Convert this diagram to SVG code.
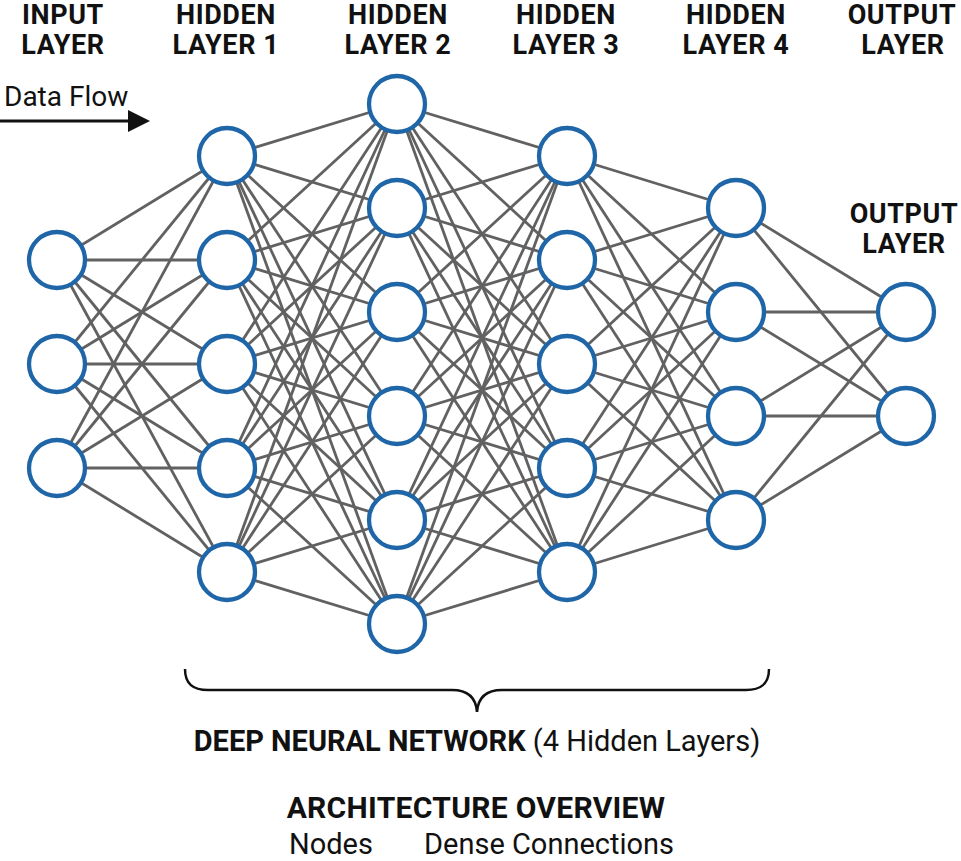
<svg xmlns="http://www.w3.org/2000/svg" width="961" height="861" viewBox="0 0 961 861">
<style>
.hdr{font-family:Roboto,"Liberation Sans",sans-serif;font-weight:700;font-size:27px;letter-spacing:0.6px;fill:#111;text-anchor:middle}
.lbl{font-family:Roboto,"Liberation Sans",sans-serif;font-size:29px;fill:#111}
.conn line{stroke:#616161;stroke-width:2.8}
.node circle{fill:#fff;stroke:#1f66a8;stroke-width:4.3}
</style>
<rect width="961" height="861" fill="#fff"/>
<g id="headers">
<text class="hdr" x="63" y="24">INPUT</text><text class="hdr" x="63" y="54">LAYER</text>
<text class="hdr" x="226" y="24">HIDDEN</text><text class="hdr" x="226" y="54">LAYER 1</text>
<text class="hdr" x="398" y="24">HIDDEN</text><text class="hdr" x="398" y="54">LAYER 2</text>
<text class="hdr" x="566" y="24">HIDDEN</text><text class="hdr" x="566" y="54">LAYER 3</text>
<text class="hdr" x="736" y="24">HIDDEN</text><text class="hdr" x="736" y="54">LAYER 4</text>
<text class="hdr" x="902" y="24">OUTPUT</text><text class="hdr" x="903" y="54">LAYER</text>
<text class="hdr" x="904" y="223">OUTPUT</text><text class="hdr" x="904" y="253">LAYER</text>
</g>
<g id="dataflow">
<text class="lbl" x="4" y="106" style="font-size:28px">Data Flow</text>
<line x1="0" y1="121" x2="132" y2="121" stroke="#111" stroke-width="3"/>
<polygon points="128,110 150,121 128,132" fill="#111"/>
</g>
<g id="connectors" class="conn">
<line x1="57" y1="260" x2="227" y2="156"/><line x1="57" y1="260" x2="227" y2="260"/><line x1="57" y1="260" x2="227" y2="364"/><line x1="57" y1="260" x2="227" y2="468"/><line x1="57" y1="260" x2="227" y2="572"/>
<line x1="57" y1="364" x2="227" y2="156"/><line x1="57" y1="364" x2="227" y2="260"/><line x1="57" y1="364" x2="227" y2="364"/><line x1="57" y1="364" x2="227" y2="468"/><line x1="57" y1="364" x2="227" y2="572"/>
<line x1="57" y1="468" x2="227" y2="156"/><line x1="57" y1="468" x2="227" y2="260"/><line x1="57" y1="468" x2="227" y2="364"/><line x1="57" y1="468" x2="227" y2="468"/><line x1="57" y1="468" x2="227" y2="572"/>

<line x1="227" y1="156" x2="397" y2="104"/><line x1="227" y1="156" x2="397" y2="208"/><line x1="227" y1="156" x2="397" y2="312"/><line x1="227" y1="156" x2="397" y2="416"/><line x1="227" y1="156" x2="397" y2="520"/><line x1="227" y1="156" x2="397" y2="624"/>
<line x1="227" y1="260" x2="397" y2="104"/><line x1="227" y1="260" x2="397" y2="208"/><line x1="227" y1="260" x2="397" y2="312"/><line x1="227" y1="260" x2="397" y2="416"/><line x1="227" y1="260" x2="397" y2="520"/><line x1="227" y1="260" x2="397" y2="624"/>
<line x1="227" y1="364" x2="397" y2="104"/><line x1="227" y1="364" x2="397" y2="208"/><line x1="227" y1="364" x2="397" y2="312"/><line x1="227" y1="364" x2="397" y2="416"/><line x1="227" y1="364" x2="397" y2="520"/><line x1="227" y1="364" x2="397" y2="624"/>
<line x1="227" y1="468" x2="397" y2="104"/><line x1="227" y1="468" x2="397" y2="208"/><line x1="227" y1="468" x2="397" y2="312"/><line x1="227" y1="468" x2="397" y2="416"/><line x1="227" y1="468" x2="397" y2="520"/><line x1="227" y1="468" x2="397" y2="624"/>
<line x1="227" y1="572" x2="397" y2="104"/><line x1="227" y1="572" x2="397" y2="208"/><line x1="227" y1="572" x2="397" y2="312"/><line x1="227" y1="572" x2="397" y2="416"/><line x1="227" y1="572" x2="397" y2="520"/><line x1="227" y1="572" x2="397" y2="624"/>

<line x1="397" y1="104" x2="567" y2="156"/><line x1="397" y1="104" x2="567" y2="260"/><line x1="397" y1="104" x2="567" y2="364"/><line x1="397" y1="104" x2="567" y2="468"/><line x1="397" y1="104" x2="567" y2="572"/>
<line x1="397" y1="208" x2="567" y2="156"/><line x1="397" y1="208" x2="567" y2="260"/><line x1="397" y1="208" x2="567" y2="364"/><line x1="397" y1="208" x2="567" y2="468"/><line x1="397" y1="208" x2="567" y2="572"/>
<line x1="397" y1="312" x2="567" y2="156"/><line x1="397" y1="312" x2="567" y2="260"/><line x1="397" y1="312" x2="567" y2="364"/><line x1="397" y1="312" x2="567" y2="468"/><line x1="397" y1="312" x2="567" y2="572"/>
<line x1="397" y1="416" x2="567" y2="156"/><line x1="397" y1="416" x2="567" y2="260"/><line x1="397" y1="416" x2="567" y2="364"/><line x1="397" y1="416" x2="567" y2="468"/><line x1="397" y1="416" x2="567" y2="572"/>
<line x1="397" y1="520" x2="567" y2="156"/><line x1="397" y1="520" x2="567" y2="260"/><line x1="397" y1="520" x2="567" y2="364"/><line x1="397" y1="520" x2="567" y2="468"/><line x1="397" y1="520" x2="567" y2="572"/>
<line x1="397" y1="624" x2="567" y2="156"/><line x1="397" y1="624" x2="567" y2="260"/><line x1="397" y1="624" x2="567" y2="364"/><line x1="397" y1="624" x2="567" y2="468"/><line x1="397" y1="624" x2="567" y2="572"/>

<line x1="567" y1="156" x2="736" y2="208"/><line x1="567" y1="156" x2="736" y2="312"/><line x1="567" y1="156" x2="736" y2="416"/><line x1="567" y1="156" x2="736" y2="520"/>
<line x1="567" y1="260" x2="736" y2="208"/><line x1="567" y1="260" x2="736" y2="312"/><line x1="567" y1="260" x2="736" y2="416"/><line x1="567" y1="260" x2="736" y2="520"/>
<line x1="567" y1="364" x2="736" y2="208"/><line x1="567" y1="364" x2="736" y2="312"/><line x1="567" y1="364" x2="736" y2="416"/><line x1="567" y1="364" x2="736" y2="520"/>
<line x1="567" y1="468" x2="736" y2="208"/><line x1="567" y1="468" x2="736" y2="312"/><line x1="567" y1="468" x2="736" y2="416"/><line x1="567" y1="468" x2="736" y2="520"/>
<line x1="567" y1="572" x2="736" y2="208"/><line x1="567" y1="572" x2="736" y2="312"/><line x1="567" y1="572" x2="736" y2="416"/><line x1="567" y1="572" x2="736" y2="520"/>

<line x1="736" y1="208" x2="906" y2="312"/><line x1="736" y1="208" x2="906" y2="416"/>
<line x1="736" y1="312" x2="906" y2="312"/><line x1="736" y1="312" x2="906" y2="416"/>
<line x1="736" y1="416" x2="906" y2="312"/><line x1="736" y1="416" x2="906" y2="416"/>
<line x1="736" y1="520" x2="906" y2="312"/><line x1="736" y1="520" x2="906" y2="416"/>
</g>
<g id="input-layer" class="node">
<g id="in1"><circle cx="57" cy="260" r="28"/></g>
<g id="in2"><circle cx="57" cy="364" r="28"/></g>
<g id="in3"><circle cx="57" cy="468" r="28"/></g>
</g>
<g id="hidden-1" class="node">
<g id="h1n1"><circle cx="227" cy="156" r="28"/></g>
<g id="h1n2"><circle cx="227" cy="260" r="28"/></g>
<g id="h1n3"><circle cx="227" cy="364" r="28"/></g>
<g id="h1n4"><circle cx="227" cy="468" r="28"/></g>
<g id="h1n5"><circle cx="227" cy="572" r="28"/></g>
</g>
<g id="hidden-2" class="node">
<g id="h2n1"><circle cx="397" cy="104" r="28"/></g>
<g id="h2n2"><circle cx="397" cy="208" r="28"/></g>
<g id="h2n3"><circle cx="397" cy="312" r="28"/></g>
<g id="h2n4"><circle cx="397" cy="416" r="28"/></g>
<g id="h2n5"><circle cx="397" cy="520" r="28"/></g>
<g id="h2n6"><circle cx="397" cy="624" r="28"/></g>
</g>
<g id="hidden-3" class="node">
<g id="h3n1"><circle cx="567" cy="156" r="28"/></g>
<g id="h3n2"><circle cx="567" cy="260" r="28"/></g>
<g id="h3n3"><circle cx="567" cy="364" r="28"/></g>
<g id="h3n4"><circle cx="567" cy="468" r="28"/></g>
<g id="h3n5"><circle cx="567" cy="572" r="28"/></g>
</g>
<g id="hidden-4" class="node">
<g id="h4n1"><circle cx="736" cy="208" r="28"/></g>
<g id="h4n2"><circle cx="736" cy="312" r="28"/></g>
<g id="h4n3"><circle cx="736" cy="416" r="28"/></g>
<g id="h4n4"><circle cx="736" cy="520" r="28"/></g>
</g>
<g id="output-layer" class="node">
<g id="out1"><circle cx="906" cy="312" r="28"/></g>
<g id="out2"><circle cx="906" cy="416" r="28"/></g>
</g>
<g id="brace">
<path d="M185 669C185 684 193 690 208 690L452 690C468 690 476 698 477 712C478 698 486 690 502 690L746 690C761 690 769 684 769 669" fill="none" stroke="#111" stroke-width="2.5"/>
</g>
<g id="footer">
<text class="lbl" x="477" y="751" text-anchor="middle"><tspan font-weight="700">DEEP NEURAL NETWORK</tspan> (4 Hidden Layers)</text>
<text class="hdr" x="476" y="818" style="font-size:30px;letter-spacing:0.3px">ARCHITECTURE OVERVIEW</text>
<text class="lbl" x="289" y="854">Nodes</text>
<text class="lbl" x="424" y="854">Dense Connections</text>
</g>
</svg>
